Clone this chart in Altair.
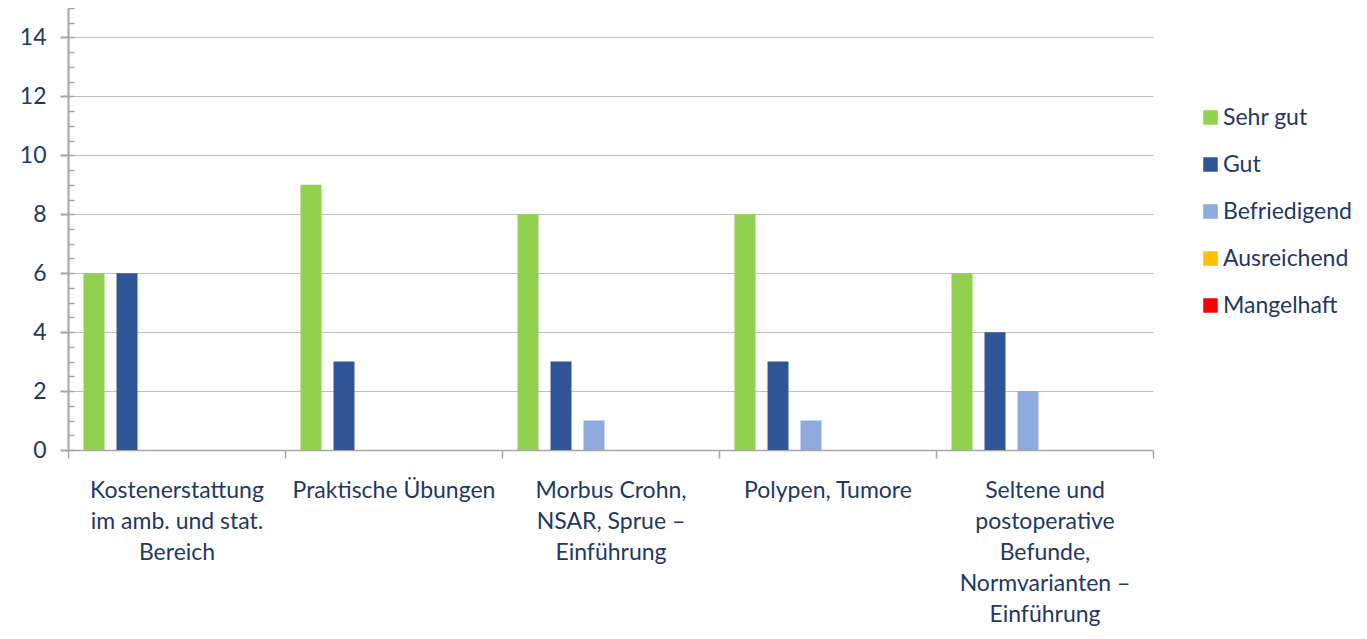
import altair as alt
import pandas as pd

categories = [
    "Kostenerstattung\nim amb. und stat.\nBereich",
    "Praktische Übungen",
    "Morbus Crohn,\nNSAR, Sprue –\nEinführung",
    "Polypen, Tumore",
    "Seltene und\npostoperative\nBefunde,\nNormvarianten –\nEinführung",
]
series = ["Sehr gut", "Gut", "Befriedigend", "Ausreichend", "Mangelhaft"]
sehr_gut = [6, 9, 8, 8, 6]
gut = [6, 3, 3, 3, 4]
befriedigend = [0, 0, 1, 1, 2]
ausreichend = [0, 0, 0, 0, 0]
mangelhaft = [0, 0, 0, 0, 0]
colors = ["#92D050", "#2F5597", "#8FAADC", "#FFC000", "#FF0000"]
y_major = [0, 2, 4, 6, 8, 10, 12, 14]
y_minor = [0, 0.5, 1, 1.5, 2, 2.5, 3, 3.5, 4, 4.5, 5, 5.5, 6, 6.5, 7, 7.5,
           8, 8.5, 9, 9.5, 10, 10.5, 11, 11.5, 12, 12.5, 13, 13.5, 14, 14.5, 15]
offset_slots = series + ["_leer"]

values = [sehr_gut, gut, befriedigend, ausreichend, mangelhaft]
rows = []
for s, vals in zip(series, values):
    for c, v in zip(categories, vals):
        rows.append({"Kategorie": c, "Bewertung": s, "Anzahl": v})
df = pd.DataFrame(rows)

TXT = "#1F3864"
GRAY = "#A6A6A6"
FONT = "Lato"

x_enc = alt.X(
    "Kategorie:N", sort=categories, title=None,
    scale=alt.Scale(paddingInner=0, paddingOuter=0),
    axis=alt.Axis(labelAngle=0, labelAlign="center", labelExpr="split(datum.label, '\\n')",
                  labelFontSize=23, labelColor=TXT, labelFont=FONT,
                  labelLineHeight=31, labelBaseline="top", labelPadding=21,
                  tickBand="extent", tickSize=8, tickColor=GRAY, tickWidth=1.5,
                  domainColor=GRAY, domainWidth=1.5, grid=False, labelLimit=300),
)
xoff = alt.XOffset("Bewertung:N", scale=alt.Scale(domain=offset_slots, paddingInner=0.364, paddingOuter=0.47))
color = alt.Color("Bewertung:N", scale=alt.Scale(domain=series, range=colors),
                  legend=alt.Legend(title=None, orient="none", legendX=1131, legendY=98,
                                    symbolType="square", symbolSize=210, symbolStrokeWidth=0,
                                    labelFontSize=23, labelColor=TXT, labelFont=FONT,
                                    labelOffset=1, rowPadding=23))

bars = alt.Chart(df).mark_bar().encode(
    x=x_enc, xOffset=xoff, color=color,
    y=alt.Y("Anzahl:Q", title=None, scale=alt.Scale(domain=[0, 15], nice=False),
            axis=alt.Axis(values=y_major, orient="left", labelFontSize=23, labelColor=TXT,
                          labelFont=FONT, labelPadding=14, tickSize=8, tickColor=GRAY,
                          tickWidth=2, domainColor=GRAY, domainWidth=2, grid=True,
                          gridColor="#BFBFBF", gridWidth=1)),
)
minor = alt.Chart(df).mark_bar(opacity=0).encode(
    x=alt.X("Kategorie:N", sort=categories),
    y=alt.Y("Anzahl:Q", scale=alt.Scale(domain=[0, 15], nice=False),
            axis=alt.Axis(values=y_minor, orient="left", offset=-6, labels=False, title=None,
                          tickSize=6, tickColor=GRAY, tickWidth=1.5, domain=False, grid=False)),
)

chart = alt.layer(minor, bars).resolve_axis(y="independent").properties(
    width=1085, height=442,
    autosize=alt.AutoSizeParams(type="none"),
    padding={"left": 60, "top": 0, "right": 205, "bottom": 181},
).configure_view(stroke=None)

chart.save("out.html", embed_options={"renderer": "svg", "actions": False})
